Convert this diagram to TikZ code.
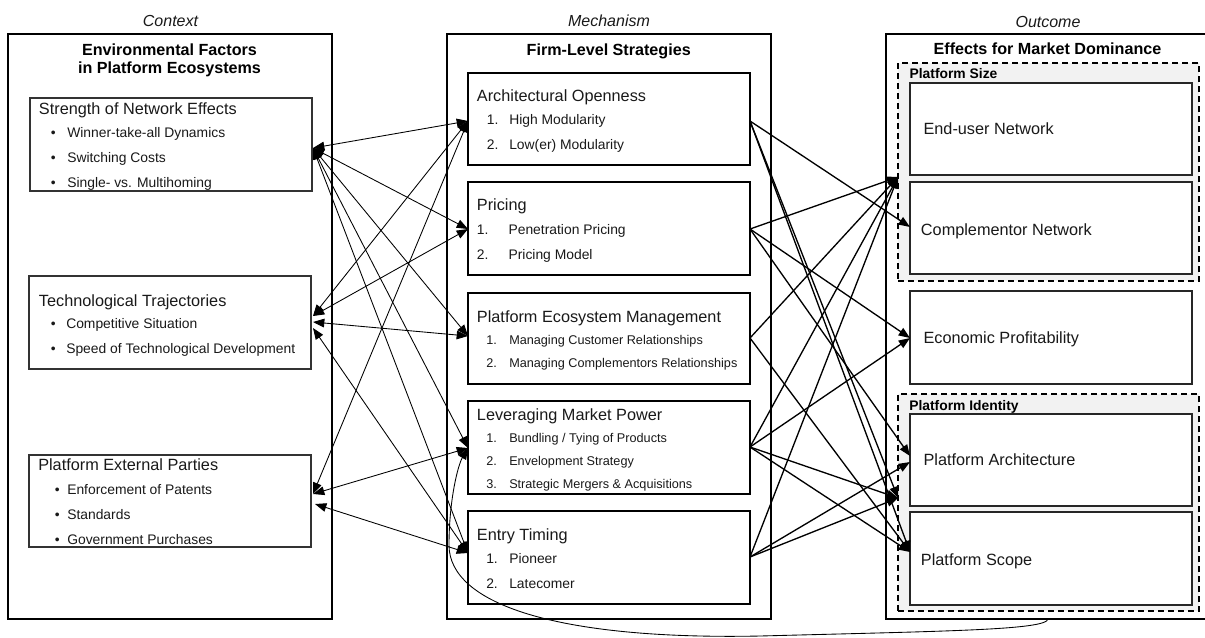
\documentclass[tikz,border=0pt]{standalone}
\usepackage{fontspec}
\setmainfont{Liberation Sans}
\usetikzlibrary{arrows.meta,fit}
\newdimen\pxu \pxu=0.75pt
\newcommand{\bitem}[2]{\makebox[#1\pxu][l]{•}#2}
\newcommand{\nitem}[3]{\makebox[#1\pxu][l]{#2}#3}
\begin{document}
\begin{tikzpicture}[x=0.75pt,y=-0.75pt,
  outerbox/.style={draw=black, line width=1.5pt, inner sep=0pt},
  lbox/.style={draw=black!80, line width=0.9pt, inner sep=0pt},
  mbox/.style={draw=black, line width=1.5pt, inner sep=0pt},
  rbox/.style={draw=black!85, line width=1.1pt, fill=white, inner sep=0pt},
  grp/.style={draw=black, dash pattern=on 4.5pt off 3pt, line width=1.2pt, fill=black!5, inner sep=0pt},
  ttl/.style={anchor=base west, inner sep=0pt, font=\fontsize{12.2}{14}\selectfont, text=black!90},
  itm/.style={anchor=base west, inner sep=0pt, font=\fontsize{10.4}{12}\selectfont, text=black!90},
  itms/.style={anchor=base west, inner sep=0pt, font=\fontsize{9.5}{11}\selectfont, text=black!90},
  hdr/.style={anchor=base, inner sep=0pt, font=\bfseries\fontsize{12.1}{14}\selectfont},
  ctx/.style={anchor=base, inner sep=0pt, font=\itshape\fontsize{12}{14}\selectfont, text=black!90},
  grpl/.style={anchor=base west, inner sep=0pt, font=\bfseries\fontsize{10.4}{12}\selectfont},
  lcon/.style={{Triangle[length=8.5pt,width=6.5pt]}-{Triangle[length=8.5pt,width=6.5pt]}, line width=0.65pt},
  rcon/.style={-{Triangle[length=8.5pt,width=6.5pt]}, line width=1pt},
  ccon/.style={-{Triangle[length=8.5pt,width=6.5pt]}, line width=0.65pt}
]
\useasboundingbox (0,0) rectangle (1205,637);

% ---------- Context column ----------
\node[ctx] (hctx) at (170.5,26.7) {Context};
\node[outerbox, fit={(8,34)(332,619)}] (ctxbox) {};
\node[hdr] (h1a) at (169.5,55) {Environmental Factors};
\node[hdr] (h1b) at (169.5,73.3) {in Platform Ecosystems};

\node[lbox, fit={(30,98)(312,191)}] (L1) {};
\node[ttl] (L1t) at (38.7,114.3) {Strength of Network Effects};
\node[itm] (L1i1) at (50.5,137.3) {\bitem{16.5}{Winner-take-all Dynamics}};
\node[itm] (L1i2) at (50.5,162.3) {\bitem{16.5}{Switching Costs}};
\node[itm] (L1i3) at (50.5,187.3) {\bitem{16.5}{Single- vs. Multihoming}};

\node[lbox, fit={(29,276)(311,369)}] (L2) {};
\node[ttl] (L2t) at (38.7,306) {Technological Trajectories};
\node[itm] (L2i1) at (50.5,328.3) {\bitem{15.5}{Competitive Situation}};
\node[itm] (L2i2) at (50.5,353.3) {\bitem{15.5}{Speed of Technological Development}};

\node[lbox, fit={(29,455)(311,547)}] (L3) {};
\node[ttl] (L3t) at (38,470.7) {Platform External Parties};
\node[itm] (L3i1) at (54.5,494.3) {\bitem{12.5}{Enforcement of Patents}};
\node[itm] (L3i2) at (54.5,519.3) {\bitem{12.5}{Standards}};
\node[itm] (L3i3) at (54.5,544.3) {\bitem{12.5}{Government Purchases}};

% ---------- Mechanism column ----------
\node[ctx] (hmech) at (609,26) {Mechanism};
\node[outerbox, fit={(447,34)(771,619)}] (mechbox) {};
\node[hdr] (h2) at (608.7,55) {Firm-Level Strategies};

\node[mbox, fit={(468,73)(750,165)}] (MA) {};
\node[ttl] (MAt) at (476.7,101.7) {Architectural Openness};
\node[itm] (MAi1) at (486.7,124) {\nitem{22.3}{1.}{High Modularity}};
\node[itm] (MAi2) at (486.7,149) {\nitem{22.3}{2.}{Low(er) Modularity}};

\node[mbox, fit={(468,182)(750,275)}] (MB) {};
\node[ttl] (MBt) at (476.7,210.7) {Pricing};
\node[itm] (MBi1) at (476.7,234.3) {\nitem{31.6}{1.}{Penetration Pricing}};
\node[itm] (MBi2) at (476.7,259.3) {\nitem{31.6}{2.}{Pricing Model}};

\node[mbox, fit={(468,293)(750,384)}] (MC) {};
\node[ttl] (MCt) at (476.7,322.7) {Platform Ecosystem Management};
\node[itms] (MCi1) at (486,344.3) {\nitem{23}{1.}{Managing Customer Relationships}};
\node[itms] (MCi2) at (486,367.7) {\nitem{23}{2.}{Managing Complementors Relationships}};

\node[mbox, fit={(468,401)(750,494)}] (MD) {};
\node[ttl] (MDt) at (476.7,420.7) {Leveraging Market Power};
\node[itms] (MDi1) at (486,442.7) {\nitem{23}{1.}{Bundling / Tying of Products}};
\node[itms] (MDi2) at (486,465.7) {\nitem{23}{2.}{Envelopment Strategy}};
\node[itms] (MDi3) at (486,488.3) {\nitem{23}{3.}{Strategic Mergers \& Acquisitions}};

\node[mbox, fit={(468,511)(750,604)}] (ME) {};
\node[ttl] (MEt) at (476.7,540.7) {Entry Timing};
\node[itm] (MEi1) at (486,563.3) {\nitem{23}{1.}{Pioneer}};
\node[itm] (MEi2) at (486,588.3) {\nitem{23}{2.}{Latecomer}};

% ---------- Outcome column ----------
\node[ctx] (hout) at (1048,27.3) {Outcome};
\node[outerbox, fit={(886,34)(1206,619)}] (outbox) {};
\node[hdr] (h3) at (1047.5,54.3) {Effects for Market Dominance};

\node[grp, fit={(898,63)(1199,281)}] (G1) {};
\node[grpl] (G1l) at (909.3,78.3) {Platform Size};
\node[rbox, fit={(910,83)(1192,175)}] (R1) {};
\node[ttl] (R1t) at (923.3,134.3) {End-user Network};
\node[rbox, fit={(910,182)(1192,274)}] (R2) {};
\node[ttl] (R2t) at (920.7,235) {Complementor Network};

\node[rbox, fit={(910,291)(1192,384)}] (R3) {};
\node[ttl] (R3t) at (923.3,343.3) {Economic Profitability};

\node[grp, fit={(898,394)(1199,611)}] (G2) {};
\node[grpl] (G2l) at (909,410) {Platform Identity};
\node[rbox, fit={(910,414)(1192,506)}] (R4) {};
\node[ttl] (R4t) at (923.3,465.7) {Platform Architecture};
\node[rbox, fit={(910,512)(1192,605)}] (R5) {};
\node[ttl] (R5t) at (920.7,565) {Platform Scope};

% ---------- connector ports ----------
\coordinate (pL1) at (313,148);
\coordinate (pL2a) at (313,316);
\coordinate (pL2b) at (313,322);
\coordinate (pL2c) at (313,328);
\coordinate (pL3a) at (313,494);
\coordinate (pL3b) at (315,504);
\coordinate (pAl) at (468,121);
\coordinate (pBl) at (468,229);
\coordinate (pCl) at (468,336);
\coordinate (pDl) at (468,448);
\coordinate (pEl) at (468,553);
\coordinate (pAr) at (750,121);
\coordinate (pBr) at (750,229);
\coordinate (pCr) at (750,338);
\coordinate (pDr) at (750,447);
\coordinate (pEr) at (750,557);
\coordinate (pSize) at (898,177);
\coordinate (pComp) at (910,227);
\coordinate (pEP) at (910,338);
\coordinate (pPAa) at (910,456);
\coordinate (pPAb) at (910,462);
\coordinate (pId) at (898,498);
\coordinate (pScope) at (910,552);
\coordinate (pOut) at (1048,619);

% ---------- context <-> mechanism ----------
\draw[lcon] (pL1) -- (pAl);
\draw[lcon] (pL1) -- (pBl);
\draw[lcon] (pL1) -- (pCl);
\draw[lcon] (pL1) -- (pDl);
\draw[lcon] (pL1) -- (pEl);
\draw[lcon] (pL2a) -- (pAl);
\draw[lcon] (pL2a) -- (pBl);
\draw[lcon] (pL2b) -- (pCl);
\draw[lcon] (pL2c) -- (pEl);
\draw[lcon] (pL3a) -- (pAl);
\draw[lcon] (pL3a) -- (pDl);
\draw[lcon] (pL3b) -- (pEl);

% ---------- mechanism -> outcome ----------
\draw[rcon] (pAr) -- (pComp);
\draw[rcon] (pAr) -- (pId);
\draw[rcon] (pAr) -- (pScope);
\draw[rcon] (pBr) -- (pSize);
\draw[rcon] (pBr) -- (pEP);
\draw[rcon] (pBr) -- (pPAa);
\draw[rcon] (pCr) -- (pSize);
\draw[rcon] (pCr) -- (pScope);
\draw[rcon] (pDr) -- (pSize);
\draw[rcon] (pDr) -- (pEP);
\draw[rcon] (pDr) -- (pId);
\draw[rcon] (pDr) -- (pScope);
\draw[rcon] (pEr) -- (pSize);
\draw[rcon] (pEr) -- (pPAb);
\draw[rcon] (pEr) -- (pId);

% ---------- feedback curve ----------
\draw[ccon] (pOut) .. controls (1046,630) and (950,631) .. (760,636)
  .. controls (560,640) and (449,605) .. (449,545)
  .. controls (449,500) and (458,465) .. (pDl);
\end{tikzpicture}
\end{document}
